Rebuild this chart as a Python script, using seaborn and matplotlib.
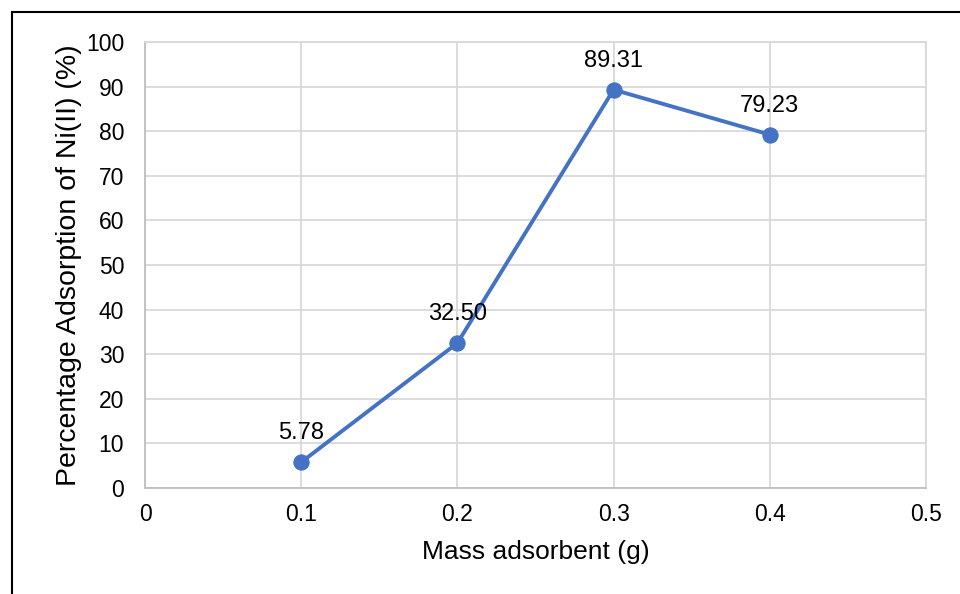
import matplotlib
matplotlib.use("Agg")
import matplotlib.pyplot as plt
import seaborn as sns
import pandas as pd
from matplotlib.patches import Rectangle

mass = [0.1, 0.2, 0.3, 0.4]
adsorption = [5.78, 32.50, 89.31, 79.23]
point_labels = ["5.78", "32.50", "89.31", "79.23"]

sns.set_theme(style="white")
plt.rcParams['font.family'] = ['Liberation Sans', 'DejaVu Sans']

df = pd.DataFrame({"mass": mass, "ads": adsorption})

fig = plt.figure(figsize=(9.6, 5.94), dpi=100)
ax = fig.add_axes([145/960, 1-488/594, (926-145)/960, (488-42)/594])

sns.lineplot(data=df, x="mass", y="ads", ax=ax, color="#4472C4", linewidth=2.8,
             marker="o", markersize=11, markeredgecolor="#4472C4", markerfacecolor="#4472C4")

for xv, yv, lab in zip(mass, adsorption, point_labels):
    ax.annotate(lab, (xv, yv), xytext=(0, 16.5), textcoords="offset points",
                ha="center", va="baseline", fontsize=17, color="#000000")

ax.set_xlim(0, 0.5)
ax.set_ylim(0, 100)
ax.set_xticks([0, 0.1, 0.2, 0.3, 0.4, 0.5])
ax.set_xticklabels(["0", "0.1", "0.2", "0.3", "0.4", "0.5"])
ax.set_yticks(range(0, 101, 10))
ax.tick_params(axis="both", labelsize=16.5, colors="#000000", length=0)
ax.tick_params(axis="x", pad=11)
ax.tick_params(axis="y", pad=15)
ax.grid(True, color="#d9d9d9", linewidth=1.3)
for s in ["top", "right"]:
    ax.spines[s].set_color("#d9d9d9")
    ax.spines[s].set_linewidth(1.3)
for s in ["bottom", "left"]:
    ax.spines[s].set_color("#bfbfbf")
    ax.spines[s].set_linewidth(1.3)
ax.set_xlabel("Mass adsorbent (g)", fontsize=19, color="#000000", labelpad=10)
ax.set_ylabel("Percentage Adsorption of Ni(II) (%)", fontsize=20.5, color="#000000", labelpad=3)

fig.patches.append(Rectangle((12/960, -0.1), 1.2, 1 - 12/594 + 0.1, transform=fig.transFigure,
                             fill=False, edgecolor="black", linewidth=1.5))

fig.savefig("out.png", dpi=100)
